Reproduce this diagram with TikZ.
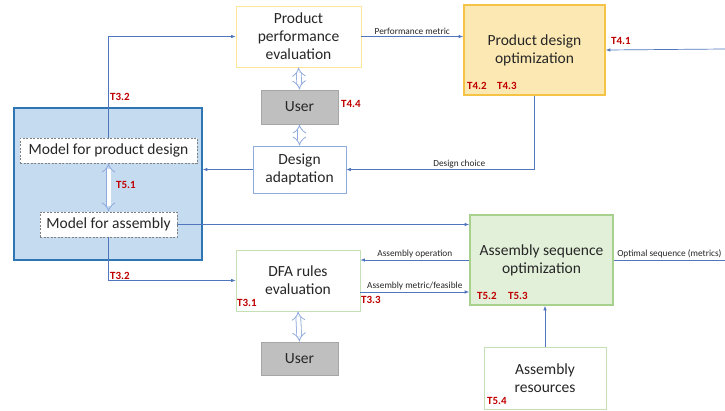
\documentclass[tikz,border=0pt]{standalone}
\usepackage{fontspec}
\setmainfont{Carlito}
\usetikzlibrary{arrows.meta}
\definecolor{lineblue}{RGB}{80,118,190}
\definecolor{txt}{RGB}{38,38,38}
\definecolor{tagred}{RGB}{192,0,0}
\definecolor{bigfill}{RGB}{197,219,239}
\definecolor{bigdraw}{RGB}{46,117,182}
\definecolor{optfill}{RGB}{252,232,178}
\definecolor{optdraw}{RGB}{245,196,70}
\definecolor{seqfill}{RGB}{226,240,217}
\definecolor{seqdraw}{RGB}{169,209,142}
\definecolor{evaldraw}{RGB}{255,230,153}
\definecolor{greendraw}{RGB}{197,224,180}
\definecolor{userfill}{RGB}{191,191,191}
\definecolor{userdraw}{RGB}{166,166,166}
\definecolor{adaptdraw}{RGB}{143,170,220}

\begin{document}
\begin{tikzpicture}[x=1pt,y=-1pt,
    box/.style={draw,fill=white,align=center,text=txt,inner sep=0pt,line width=0.8pt,
                font=\fontsize{15.5}{18}\selectfont},
    userbox/.style={box,fill=userfill,draw=userdraw,minimum width=77pt,minimum height=34pt},
    dashbox/.style={box,draw=gray,dashed,dash pattern=on 2pt off 1.5pt,minimum height=25pt},
    tag/.style={anchor=west,inner sep=0pt,text=tagred,font=\fontsize{11}{12}\selectfont\bfseries},
    lbl/.style={above,inner sep=1.5pt,text=txt,font=\fontsize{9.3}{11}\selectfont},
    link/.style={draw=lineblue,line width=0.7pt,-{Latex[length=4.5pt,width=3.5pt]}},
    dbl/.style={draw=adaptdraw,double=white,double distance=4pt,line width=0.8pt,
                {Implies[]}-{Implies[]}}]
    \useasboundingbox[fill=white] (0,0) rectangle (725,410);

    % product side
    \node[box,draw=evaldraw,minimum width=125pt,minimum height=61pt] (ppe) at (298.5,36.5)
        {Product\\performance\\evaluation};
    \node[box,fill=optfill,draw=optdraw,line width=1.6pt,minimum width=141pt,minimum height=90pt]
        (pdo) at (534.5,50) {Product design\\optimization};
    \node[userbox] (user1) at (299.5,107) {User};
    \node[box,draw=adaptdraw,minimum width=93pt,minimum height=47pt] (da) at (299.5,169.5)
        {Design\\adaptation};

    % models
    \node[draw=bigdraw,fill=bigfill,line width=1.6pt,minimum width=188pt,minimum height=152pt]
        (big) at (108,184) {};
    \node[dashbox,minimum width=177pt] (mpd) at (108.5,150.5) {Model for product design};
    \node[dashbox,minimum width=137pt] (ma) at (108.5,224.5) {Model for assembly};

    % assembly side
    \node[box,draw=greendraw,minimum width=124pt,minimum height=61pt] (dfa) at (298,280.5)
        {DFA rules\\evaluation};
    \node[userbox,minimum height=33pt] (user2) at (299.5,358.5) {User};
    \node[box,fill=seqfill,draw=seqdraw,line width=1.6pt,minimum width=143pt,minimum height=90pt]
        (aso) at (541.5,260) {Assembly sequence\\optimization};
    \node[box,draw=greendraw,minimum width=122pt,minimum height=62pt] (ar) at (545,378)
        {Assembly\\resources};

    \coordinate (rin) at (725,49);
    \coordinate (rout) at (725,260);

    % connectors
    \draw[link] (ppe.east) -- node[lbl] {Performance metric} (ppe.east -| pdo.west);
    \draw[link] (rin) -- (pdo.east);
    \draw[link] (pdo.south) |- node[lbl,pos=0.7] {Design choice} (da.east);
    \draw[link] (da.west) -- (da.west -| big.east);
    \draw[link] (mpd.north) |- (ppe.west);
    \draw[link] (ma.east) -- (ma.east -| aso.west);
    \draw[link] (ma.south) |- (dfa.west);
    \draw[link] (aso.west) -- node[lbl] {Assembly operation} (aso.west -| dfa.east);
    \draw[link] ([yshift=-11.5pt]dfa.east) -- node[lbl] {Assembly metric/feasible}
        ([yshift=-11.5pt]dfa.east -| aso.west);
    \draw[draw=lineblue,line width=0.7pt] (aso.east) -- node[lbl] {Optimal sequence (metrics)} (rout);
    \draw[link] (ar.north) -- (ar.north |- aso.south);

    \draw[dbl] (ppe.south) -- (user1.north);
    \draw[dbl] (user1.south) -- (da.north);
    \draw[dbl] (mpd.south) -- (ma.north);
    \draw[dbl] (dfa.south) -- (user2.north);

    % task tags
    \node[tag] at (110,97) {T3.2};
    \node[tag] at (110,276) {T3.2};
    \node[tag] at (341,104) {T4.4};
    \node[tag] at (611,41) {T4.1};
    \node[tag] at (467,86) {T4.2};
    \node[tag] at (497,86) {T4.3};
    \node[tag] at (116,185) {T5.1};
    \node[tag] at (237,303) {T3.1};
    \node[tag] at (361,300) {T3.3};
    \node[tag] at (477,296) {T5.2};
    \node[tag] at (508,296) {T5.3};
    \node[tag] at (487,401) {T5.4};
\end{tikzpicture}
\end{document}
